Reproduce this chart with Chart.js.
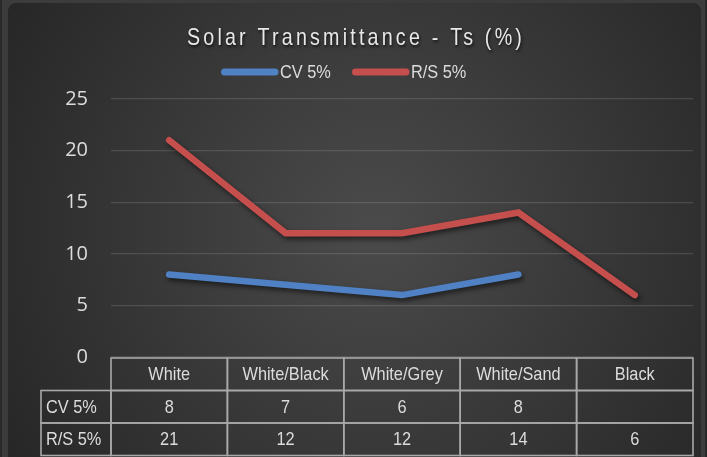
<!DOCTYPE html>
<html>
<head>
<meta charset="utf-8">
<script src="https://cdn.jsdelivr.net/npm/chart.js@4"></script>
<style>
  html, body { margin: 0; padding: 0; background: #3a3a3a; }
  #wrap { width: 707px; height: 457px; position: relative; }
  canvas { display: block; }
</style>
</head>
<body>
<div id="wrap"><canvas id="c" width="707" height="457"></canvas></div>
<script>
const chartTitle = 'Solar Transmittance - Ts (%)';
const categories = ['White', 'White/Black', 'White/Grey', 'White/Sand', 'Black'];
const seriesNames = ['CV 5%', 'R/S 5%'];
const cvValues = [8, 7, 6, 8, null];
const rsValues = [21, 12, 12, 14, 6];
const yTicks = [0, 5, 10, 15, 20, 25];
const seriesColors = ['#4f81c4', '#c44f4d'];

const SANS = "'Liberation Sans', Arial, sans-serif";
const TEXT = '#dcdcdc';

// draw horizontally condensed text (narrow font look)
function narrowText(ctx, text, x, y, align, sx) {
  ctx.save();
  ctx.translate(x, y);
  ctx.scale(sx, 1);
  ctx.textAlign = align;
  ctx.fillText(text, 0, 0);
  ctx.restore();
}

const bgPlugin = {
  id: 'bg',
  beforeDraw(chart) {
    const ctx = chart.ctx, w = chart.width, h = chart.height;
    ctx.save();
    ctx.fillStyle = '#2a2a2a';
    ctx.fillRect(0, 0, w, h);
    ctx.fillStyle = '#3c3c3c';
    ctx.fillRect(2, 0, w - 4, h);
    const g = ctx.createRadialGradient(w * 0.53, h * 0.5, 10, w * 0.53, h * 0.5, w * 0.62);
    g.addColorStop(0, '#4a4a4a');
    g.addColorStop(1, '#262626');
    ctx.fillStyle = g;
    ctx.beginPath();
    ctx.roundRect(8, 3, w - 14, h + 20, 8);
    ctx.fill();
    ctx.restore();
  }
};

const titleLegendPlugin = {
  id: 'titleLegend',
  afterDraw(chart) {
    const ctx = chart.ctx;
    ctx.save();
    // Title
    ctx.font = "24px " + SANS;
    ctx.letterSpacing = '3.9px';
    ctx.fillStyle = '#e8e8e8';
    ctx.textBaseline = 'middle';
    ctx.shadowColor = 'rgba(0,0,0,0.7)';
    ctx.shadowBlur = 3;
    ctx.shadowOffsetX = 1;
    ctx.shadowOffsetY = 2;
    narrowText(ctx, chartTitle, 356, 38, 'center', 0.82);
    ctx.letterSpacing = '0px';
    // Legend
    ctx.shadowColor = 'rgba(0,0,0,0)';
    ctx.font = "19px " + SANS;
    const starts = [221, 352];
    chart.data.datasets.forEach((ds, i) => {
      const x = starts[i];
      ctx.strokeStyle = ds.borderColor;
      ctx.lineWidth = 7;
      ctx.lineCap = 'round';
      ctx.beginPath();
      ctx.moveTo(x + 3.5, 72);
      ctx.lineTo(x + 54, 72);
      ctx.stroke();
      ctx.fillStyle = TEXT;
      narrowText(ctx, ds.label, x + 59, 73, 'left', 0.86);
    });
    ctx.restore();
  }
};

const shadowPlugin = {
  id: 'lineShadow',
  beforeDatasetsDraw(chart) {
    const ctx = chart.ctx;
    ctx.save();
    ctx.shadowColor = 'rgba(0,0,0,0.55)';
    ctx.shadowBlur = 5;
    ctx.shadowOffsetX = 2;
    ctx.shadowOffsetY = 3;
  },
  afterDatasetsDraw(chart) {
    chart.ctx.restore();
  }
};

const tablePlugin = {
  id: 'dataTable',
  afterDraw(chart) {
    const ctx = chart.ctx;
    const x = chart.scales.x;
    const area = chart.chartArea;
    const n = categories.length;
    const colW = area.width / n;
    const rowH = 32.5;
    const top = area.bottom + 1;
    const labelLeft = 41;
    ctx.save();
    ctx.strokeStyle = '#a8a8a8';
    ctx.lineWidth = 1.6;
    for (let i = 0; i < n; i++) {
      const cx = x.getPixelForValue(i);
      ctx.strokeRect(cx - colW / 2, top, colW, rowH);
    }
    const rows = [cvValues, rsValues];
    rows.forEach((vals, r) => {
      const y = top + rowH * (r + 1);
      ctx.strokeRect(labelLeft, y, area.left - labelLeft, rowH);
      for (let i = 0; i < n; i++) {
        const cx = x.getPixelForValue(i);
        ctx.strokeRect(cx - colW / 2, y, colW, rowH);
      }
    });
    ctx.fillStyle = TEXT;
    ctx.font = "19px " + SANS;
    ctx.textBaseline = 'middle';
    categories.forEach((c, i) => {
      narrowText(ctx, c, x.getPixelForValue(i), top + rowH / 2 + 1, 'center', 0.86);
    });
    rows.forEach((vals, r) => {
      const yc = top + rowH * (r + 1) + rowH / 2 + 1;
      narrowText(ctx, seriesNames[r], labelLeft + 5, yc, 'left', 0.86);
      vals.forEach((v, i) => {
        if (v !== null) narrowText(ctx, String(v), x.getPixelForValue(i), yc, 'center', 0.86);
      });
    });
    ctx.restore();
  }
};

new Chart(document.getElementById('c'), {
  type: 'line',
  data: {
    labels: categories,
    datasets: [
      { label: seriesNames[0], data: cvValues, borderColor: seriesColors[0], backgroundColor: seriesColors[0] },
      { label: seriesNames[1], data: rsValues, borderColor: seriesColors[1], backgroundColor: seriesColors[1] }
    ]
  },
  options: {
    responsive: false,
    animation: false,
    devicePixelRatio: 1,
    layout: { padding: { top: 99, bottom: 100, left: 20, right: 14 } },
    elements: {
      line: { borderWidth: 6.5, borderCapStyle: 'round', borderJoinStyle: 'miter', tension: 0 },
      point: { radius: 0, hoverRadius: 0 }
    },
    plugins: {
      legend: { display: false },
      title: { display: false },
      tooltip: { enabled: false }
    },
    scales: {
      x: { display: false, offset: true },
      y: {
        min: 0, max: 25,
        afterBuildTicks(scale) { scale.ticks = yTicks.map(v => ({ value: v })); },
        afterFit(scale) { scale.width = 91; },
        border: { display: false },
        grid: { color: 'rgba(255,255,255,0.13)', lineWidth: 1.3, drawTicks: false },
        ticks: { color: TEXT, padding: 23, font: { family: "'Open Sans', sans-serif", size: 20 } }
      }
    }
  },
  plugins: [bgPlugin, shadowPlugin, tablePlugin, titleLegendPlugin]
});
</script>
</body>
</html>
